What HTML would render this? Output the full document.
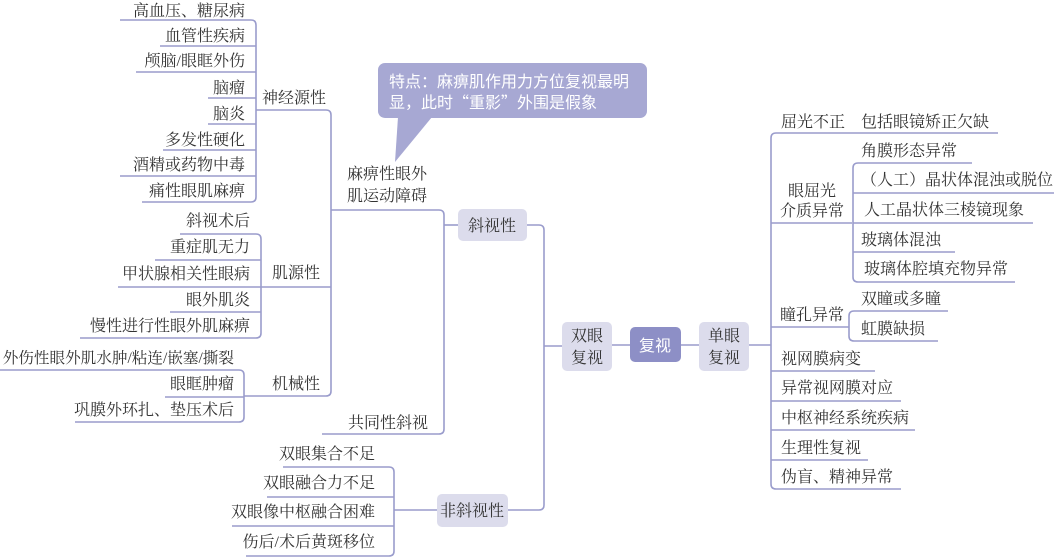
<!DOCTYPE html>
<html><head><meta charset="utf-8"><style>
html,body{margin:0;padding:0;background:#fff;}
svg{display:block;}
text{font-family:"Liberation Serif","Noto Serif CJK SC",serif;font-size:16px;fill:#333;}
.s{font-family:"Noto Sans CJK SC","Liberation Sans",sans-serif;fill:#fff;}
.l{fill:none;stroke:#9a9ccc;stroke-width:1.6;}
</style></head><body>
<svg width="1056" height="557" viewBox="0 0 1056 557" xmlns="http://www.w3.org/2000/svg">
<g class="l">
<path d="M120 20H251q5 0 5 5V197q0 5-5 5H142"/>
<path d="M160 46H256M136 72H256M208 98H256M208 124H256M163 150H256M120 176H256"/>
<path d="M256 110H326q5 0 5 5V391q0 5-5 5H244"/>
<path d="M180 234H256q5 0 5 5V333q0 5-5 5H80"/>
<path d="M155 260H261M118 287H331M170 312H261"/>
<path d="M0 370H239q5 0 5 5V417q0 5-5 5H75"/>
<path d="M165 397H244"/>
<path d="M331 210H439q5 0 5 5V429q0 5-5 5H322"/>
<path d="M444 225H458"/>
<path d="M527 225H539q5 0 5 5V505q0 5-5 5H508"/>
<path d="M544 346H562"/>
<path d="M283 467H389q5 0 5 5V551q0 5-5 5H246"/>
<path d="M267 497H394M232 526H394M394 510H437"/>
<path d="M612 345H630M681 345H699M749 345H771"/>
<path d="M998 133H776q-5 0-5 5V484q0 5 5 5H901"/>
<path d="M771 223H852M771 327H849M771 371H875M771 401H901M771 430H915M771 460H868"/>
<path d="M972 163H858q-5 0-5 5V277q0 5 5 5H1015"/>
<path d="M853 193H1054M853 223H1033M853 252H955"/>
<path d="M948 311H854q-5 0-5 5V336q0 5 5 5H938"/>
</g>
<rect x="458" y="209" width="69" height="32" rx="5" fill="#dcdcec"/>
<rect x="437" y="494" width="71" height="33" rx="5" fill="#dcdcec"/>
<rect x="562" y="322" width="50" height="49" rx="5" fill="#dcdcec"/>
<rect x="630" y="327" width="51" height="35" rx="5" fill="#8d8fc6"/>
<rect x="699" y="322" width="50" height="49" rx="5" fill="#dcdcec"/>
<rect x="378" y="63" width="269" height="55" rx="7" fill="#a7a8d3"/>
<polygon points="398,117 432,117 395,162" fill="#a7a8d3"/>
<text class="s" x="389" y="87">特点：麻痹肌作用力方位复视最明</text>
<text class="s" x="389" y="108">显，此时“重影”外围是假象</text>
<text x="492" y="231" text-anchor="middle">斜视性</text>
<text x="472" y="516" text-anchor="middle">非斜视性</text>
<text x="587" y="341" text-anchor="middle">双眼</text>
<text x="587" y="363" text-anchor="middle">复视</text>
<text class="s" x="655" y="351" text-anchor="middle">复视</text>
<text x="724" y="341" text-anchor="middle">单眼</text>
<text x="724" y="363" text-anchor="middle">复视</text>
<g text-anchor="end">
<text x="245" y="16">高血压、糖尿病</text>
<text x="245" y="41">血管性疾病</text>
<text x="245" y="66">颅脑/眼眶外伤</text>
<text x="245" y="93">脑瘤</text>
<text x="245" y="119">脑炎</text>
<text x="245" y="145">多发性硬化</text>
<text x="245" y="170">酒精或药物中毒</text>
<text x="245" y="196">痛性眼肌麻痹</text>
<text x="250" y="226">斜视术后</text>
<text x="250" y="252">重症肌无力</text>
<text x="250" y="279">甲状腺相关性眼病</text>
<text x="250" y="305">眼外肌炎</text>
<text x="250" y="331">慢性进行性眼外肌麻痹</text>
<text x="234" y="363" style="font-size:15.6px">外伤性眼外肌水肿/粘连/嵌塞/撕裂</text>
<text x="234" y="389">眼眶肿瘤</text>
<text x="234" y="415">巩膜外环扎、垫压术后</text>
<text x="375" y="459">双眼集合不足</text>
<text x="375" y="488">双眼融合力不足</text>
<text x="375" y="517">双眼像中枢融合困难</text>
<text x="375" y="547">伤后/术后黄斑移位</text>
</g>
<text x="262" y="103">神经源性</text>
<text x="272" y="278">肌源性</text>
<text x="272" y="389">机械性</text>
<text x="347" y="179">麻痹性眼外</text>
<text x="347" y="201">肌运动障碍</text>
<text x="348" y="428">共同性斜视</text>
<text x="781" y="127">屈光不正　包括眼镜矫正欠缺</text>
<text x="788" y="196">眼屈光</text>
<text x="780" y="216">介质异常</text>
<text x="861" y="156">角膜形态异常</text>
<text x="861" y="185">（人工）晶状体混浊或脱位</text>
<text x="864" y="215">人工晶状体三棱镜现象</text>
<text x="861" y="245">玻璃体混浊</text>
<text x="864" y="274">玻璃体腔填充物异常</text>
<text x="780" y="320">瞳孔异常</text>
<text x="861" y="304">双瞳或多瞳</text>
<text x="861" y="334">虹膜缺损</text>
<text x="781" y="364">视网膜病变</text>
<text x="781" y="393">异常视网膜对应</text>
<text x="781" y="423">中枢神经系统疾病</text>
<text x="781" y="453">生理性复视</text>
<text x="781" y="482">伪盲、精神异常</text>
</svg>
</body></html>
